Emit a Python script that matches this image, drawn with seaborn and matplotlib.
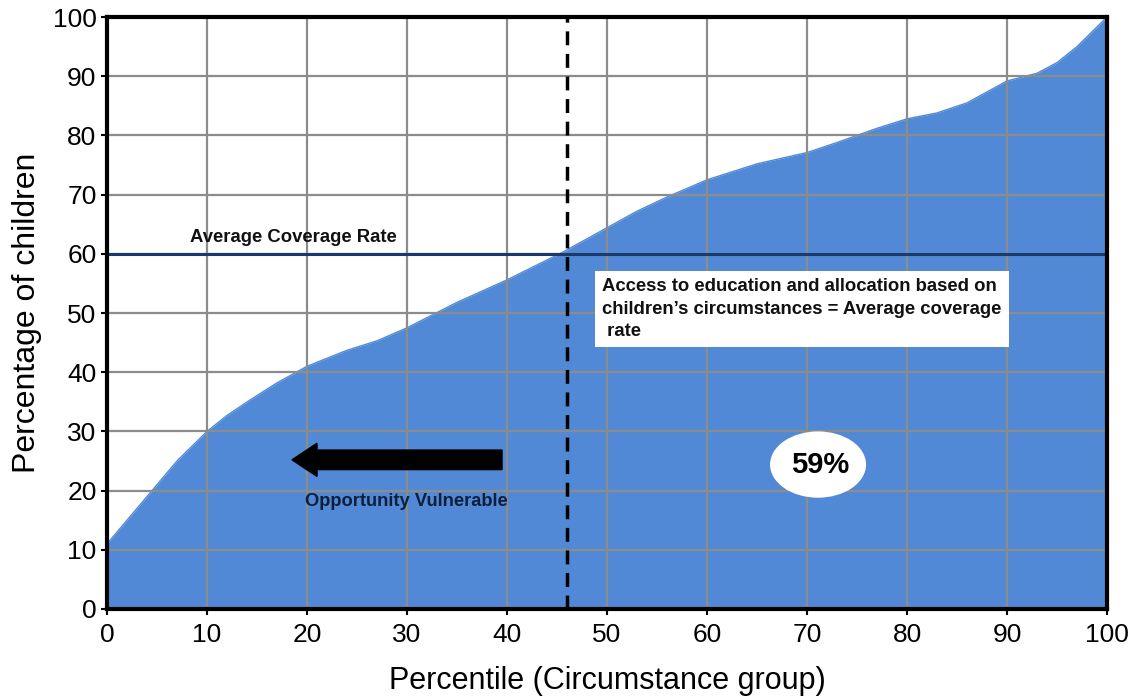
"""Coverage curve by circumstance percentile."""
import matplotlib
matplotlib.use("Agg")
import matplotlib.pyplot as plt
from matplotlib.patches import Ellipse, FancyArrow
import pandas as pd
import seaborn as sns

BLUE = "#5189D6"
NAVY = "#1B3A6B"
GRID = "#8C8C8C"

percentile = [0, 2, 4.3, 7, 10, 12, 14.3, 17, 20, 24, 27, 30, 35, 40, 45.6,
              50, 53, 56, 60, 65, 70, 73, 77, 80, 83, 86, 90, 93, 95, 97,
              98.5, 100]
coverage = [11, 15, 19.6, 25, 30, 32.7, 35.3, 38.2, 41, 43.7, 45.3, 47.5,
            51.8, 55.6, 60.3, 64.4, 67.2, 69.6, 72.5, 75.2, 77.1, 78.8, 81.2,
            82.8, 83.8, 85.5, 89.2, 90.5, 92.3, 95, 97.5, 100]
average_rate = 60
cutoff = 46
share_label = "59%"

data = pd.DataFrame({"percentile": percentile, "coverage": coverage})

sns.set_style("white")
plt.rcParams["font.family"] = ["Liberation Sans", "DejaVu Sans"]
plt.rcParams["text.color"] = "black"
plt.rcParams["axes.labelcolor"] = "black"
plt.rcParams["xtick.color"] = "black"
plt.rcParams["ytick.color"] = "black"

fig = plt.figure(figsize=(11.42, 7.0), dpi=100)
ax = fig.add_axes([0.0937, 0.13, 0.8757, 0.8457])

ax.fill_between(data.percentile, 0, data.coverage, color=BLUE, linewidth=0, zorder=1)
sns.lineplot(data=data, x="percentile", y="coverage", color=BLUE, linewidth=1, ax=ax, zorder=1)

ax.set_xticks(range(0, 101, 10))
ax.set_yticks(range(0, 101, 10))
ax.grid(True, color=GRID, linewidth=1.6, zorder=2)
ax.set_axisbelow(False)
for line in ax.get_xgridlines() + ax.get_ygridlines():
    line.set_zorder(2)

ax.axhline(average_rate, color=NAVY, linewidth=2.2, zorder=3)
ax.axvline(cutoff, color="black", linewidth=2.5, linestyle=(0, (4, 2.5)), zorder=4)

ax.text(8.3, 62.0, "Average Coverage Rate", fontsize=13.3, fontweight="bold",
        color="#111111", zorder=5)

ax.text(49.5, 55.9,
        "Access to education and allocation based on\nchildren\u2019s circumstances = Average coverage\n rate",
        fontsize=13.3, fontweight="bold", color="#111111", va="top", ha="left",
        linespacing=1.42, zorder=6,
        bbox=dict(boxstyle="square,pad=0.4", facecolor="white", edgecolor="none"))

ax.add_patch(FancyArrow(39.5, 25.2, -18.5, 0, width=3.3, head_width=5.6,
                        head_length=2.5, length_includes_head=False,
                        color="black", zorder=5))
ax.text(19.8, 18.2, "Opportunity Vulnerable", fontsize=13.2, fontweight="bold",
        color="#0F1F3A", va="center", zorder=5)

ax.add_patch(Ellipse((71.1, 24.4), 9.6, 11.2, facecolor="white", edgecolor="none", zorder=5))
ax.text(71.3, 24.4, share_label, fontsize=21, fontweight="bold", ha="center",
        va="center", zorder=6)

ax.set_xlim(0, 100)
ax.set_ylim(0, 100)
ax.set_xlabel("Percentile (Circumstance group)", fontsize=22, labelpad=14)
ax.set_ylabel("Percentage of children", fontsize=23, labelpad=8)
ax.tick_params(axis="both", labelsize=19, length=4, width=1.5,
               direction="out", bottom=True, left=True)
ax.tick_params(axis="x", pad=6)
for spine in ax.spines.values():
    spine.set_color("black")
    spine.set_linewidth(3)
    spine.set_zorder(7)

fig.savefig("out.png", dpi=100)
